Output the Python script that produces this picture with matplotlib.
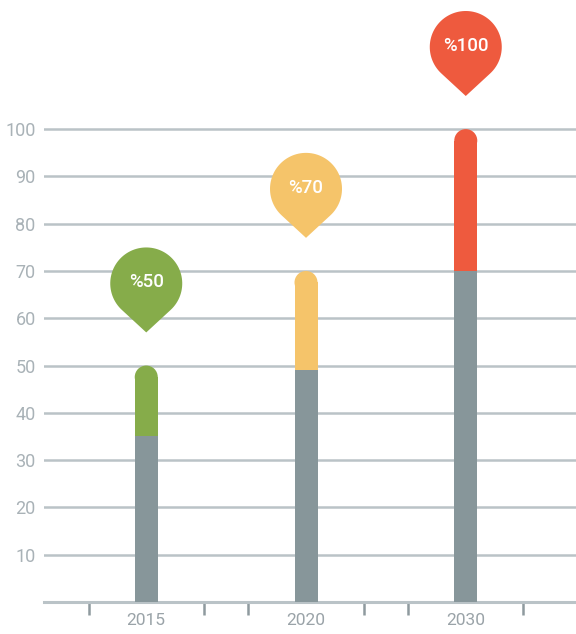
import numpy as np
import matplotlib.pyplot as plt
from matplotlib.patches import Ellipse, Polygon
from matplotlib.transforms import ScaledTranslation

years = ['2015', '2020', '2030']
base = [35, 49, 70]
total = [50, 70, 100]
labels = ['%50', '%70', '%100']
colors = ['#86ac4a', '#f5c46a', '#ee5a3e']
gray = '#87969a'
grid_c = '#bac3c7'

fig = plt.figure(figsize=(5.76, 6.34), dpi=100)
ax = fig.add_axes([44/576, 32/634, 1 - 44/576, 1 - 32/634])
ax.set_xlim(-0.64, 2.69)
ax.set_ylim(0, 127.3)

x = np.arange(len(years))
w = 0.144

for v in range(10, 101, 10):
    ax.axhline(v, color=grid_c, lw=1.8, zorder=1)

# px per data unit, for round caps
px_x = ax.bbox.width / (2.69 + 0.64)
px_y = ax.bbox.height / 127.3
r_px = w * px_x / 2
r_y = r_px / px_y

ax.bar(x, base, width=w, color=gray, zorder=3)
top_h = [t - b - r_y for t, b in zip(total, base)]
ax.bar(x, top_h, bottom=base, width=w, color=colors, zorder=3)
for xi, t, c in zip(x, total, colors):
    ax.add_patch(Ellipse((xi, t - r_y), w, 2 * r_y, color=c, zorder=3, lw=0))

# map pins (shape in inches, anchored at tip)
d, r = 49 / 100, 36 / 100
a = np.degrees(np.arccos(r / d))
th = np.radians(np.linspace(-90 + a, 270 - a, 80))
shape = np.column_stack([r * np.cos(th), d + r * np.sin(th)])
shape = np.vstack([[0, 0], shape])
for xi, t, c, lab in zip(x, total, colors, labels):
    tip = t + 7
    tr = fig.dpi_scale_trans + ScaledTranslation(xi, tip, ax.transData)
    ax.add_patch(Polygon(shape, closed=True, color=c, transform=tr,
                         zorder=4, clip_on=False, lw=0))
    ax.text(0, d + 0.01, lab, transform=tr, color='white', fontsize=13.5,
            fontweight='medium', family='Roboto', ha='center', va='center',
            zorder=5)

for s in ['top', 'right', 'left']:
    ax.spines[s].set_visible(False)
ax.spines['bottom'].set_color(grid_c)
ax.spines['bottom'].set_linewidth(2.2)

ax.set_yticks(range(10, 101, 10))
ax.tick_params(axis='y', length=0, pad=6, labelsize=13, labelcolor='#a9b2b7')
ax.set_xticks(x)
ax.set_xticklabels(years)
ax.set_xticks(np.concatenate([x - 0.36, x + 0.36]), minor=True)
ax.tick_params(axis='x', which='major', length=0, pad=8, labelsize=12.5,
               labelcolor='#9aa3a8')
ax.tick_params(axis='x', which='minor', length=9, width=1.8, color='#8f9a9f')
for lbl in ax.get_xticklabels() + ax.get_yticklabels():
    lbl.set_family('Roboto')

fig.savefig('out.png', dpi=100)
